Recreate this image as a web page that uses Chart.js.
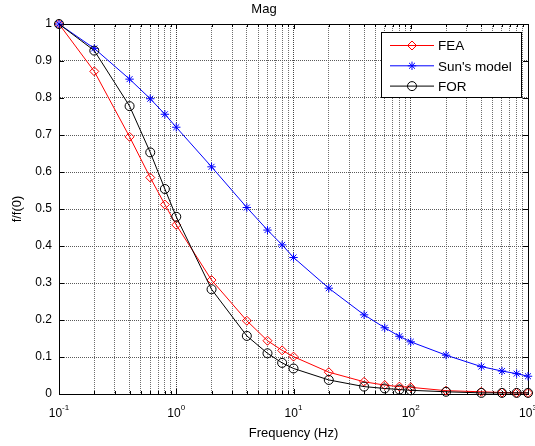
<!DOCTYPE html>
<html>
<head>
<meta charset="utf-8">
<script src="https://cdn.jsdelivr.net/npm/chart.js@4.4.0/dist/chart.umd.min.js"></script>
<style>
  html, body { margin: 0; padding: 0; background: #fff; }
  canvas { display: block; }
</style>
</head>
<body>
<canvas id="magChart" width="535" height="446"></canvas>
<script>
// frequencies (Hz) shared by all curves
const freqs   = [0.1, 0.2, 0.4, 0.6, 0.8, 1, 2, 4, 6, 8, 10, 20, 40, 60, 80, 100, 200, 400, 600, 800, 1000];
const feaVals = [1, 0.872, 0.695, 0.585, 0.512, 0.457, 0.308, 0.198, 0.144, 0.118, 0.101, 0.059, 0.033, 0.024, 0.02, 0.018, 0.009, 0.006, 0.004, 0.003, 0.003];
const sunVals = [1, 0.934, 0.851, 0.798, 0.756, 0.721, 0.614, 0.504, 0.443, 0.403, 0.369, 0.286, 0.214, 0.179, 0.156, 0.141, 0.105, 0.074, 0.062, 0.055, 0.048];
const forVals = [1, 0.928, 0.778, 0.653, 0.554, 0.479, 0.283, 0.157, 0.11, 0.084, 0.069, 0.038, 0.02, 0.015, 0.012, 0.01, 0.006, 0.003, 0.003, 0.003, 0.003];

// axis ticks
const yTickVals   = [0, 0.1, 0.2, 0.3, 0.4, 0.5, 0.6, 0.7, 0.8, 0.9, 1];
const yTickLabels = ['0', '0.1', '0.2', '0.3', '0.4', '0.5', '0.6', '0.7', '0.8', '0.9', '1'];
const xDecades    = [0.1, 1, 10, 100, 1000];
const xExponents  = ['-1', '0', '1', '2', '3'];

const FONT = '"Liberation Sans", Arial, Helvetica, sans-serif';
Chart.defaults.font.family = FONT;
Chart.defaults.color = '#000';

// every 1..9 x 10^n position gets a grid line (matlab minor grid)
const xGridVals = [];
xDecades.forEach(function (d, i) {
  if (i === xDecades.length - 1) { xGridVals.push(d); return; }
  for (let m = 1; m <= 9; m++) xGridVals.push(+(m * d).toPrecision(3));
});

function isDecade(v) {
  const l = Math.log10(v);
  return Math.abs(l - Math.round(l)) < 1e-9;
}

function series(label, vals, color, style, radius, order) {
  return {
    label: label,
    data: freqs.map(function (f, i) { return { x: f, y: vals[i] }; }),
    borderColor: color,
    backgroundColor: color,
    borderWidth: 1,
    pointStyle: style,
    pointRadius: radius,
    pointBorderColor: color,
    pointBackgroundColor: 'rgba(0,0,0,0)',
    pointBorderWidth: 1,
    tension: 0,
    clip: false,
    order: order
  };
}

//Draws the box, inner ticks, 10^n labels and the legend
const matlabFrame = {
  id: 'matlabFrame',
  beforeDatasetsDraw(chart) {
    const ctx = chart.ctx, a = chart.chartArea;
    const x = chart.scales.x, y = chart.scales.y;
    ctx.save();
    ctx.strokeStyle = '#000';
    ctx.lineWidth = 1;
    ctx.beginPath();
    x.ticks.forEach(function (t) {
      const px = Math.round(x.getPixelForValue(t.value)) + 0.5;
      const len = isDecade(t.value) ? 5 : 3;
      ctx.moveTo(px, a.bottom); ctx.lineTo(px, a.bottom - len);
      ctx.moveTo(px, a.top); ctx.lineTo(px, a.top + len);
    });
    y.ticks.forEach(function (t) {
      const py = Math.round(y.getPixelForValue(t.value)) + 0.5;
      ctx.moveTo(a.left, py); ctx.lineTo(a.left + 5, py);
      ctx.moveTo(a.right, py); ctx.lineTo(a.right - 5, py);
    });
    ctx.stroke();
    ctx.strokeRect(Math.round(a.left) + 0.5, Math.round(a.top) + 0.5,
      Math.round(a.right - a.left), Math.round(a.bottom - a.top));

    // 10^n tick labels
    ctx.fillStyle = '#000';
    ctx.textBaseline = 'alphabetic';
    ctx.textAlign = 'left';
    xDecades.forEach(function (d, i) {
      const px = x.getPixelForValue(d);
      ctx.font = '12px ' + FONT;
      const w1 = ctx.measureText('10').width;
      ctx.font = '8px ' + FONT;
      const w2 = ctx.measureText(xExponents[i]).width;
      const left = px - (w1 + w2) / 2;
      ctx.font = '12px ' + FONT;
      ctx.fillText('10', left, 417);
      ctx.font = '8px ' + FONT;
      ctx.fillText(xExponents[i], left + w1, 410);
    });
    ctx.restore();
  },
  afterDraw(chart) {
    const ctx = chart.ctx;
    const box = { x: 381.5, y: 32.5, w: 140, h: 65 };
    ctx.save();
    ctx.fillStyle = '#fff';
    ctx.fillRect(box.x, box.y, box.w, box.h);
    ctx.strokeStyle = '#000';
    ctx.lineWidth = 1;
    ctx.strokeRect(box.x, box.y, box.w, box.h);
    chart.data.datasets.forEach(function (ds, i) {
      const yy = 45.5 + i * 20.3;
      ctx.strokeStyle = ds.borderColor;
      ctx.beginPath();
      ctx.moveTo(390, yy); ctx.lineTo(434, yy);
      ctx.stroke();
      ctx.fillStyle = 'rgba(0,0,0,0)';
      Chart.helpers.drawPoint(ctx, {
        pointStyle: ds.pointStyle, radius: ds.pointRadius, rotation: 0, borderWidth: 1
      }, 412, yy);
      ctx.fillStyle = '#000';
      ctx.font = '13.5px ' + FONT;
      ctx.textBaseline = 'middle';
      ctx.textAlign = 'left';
      ctx.fillText(ds.label, 438, yy + 1);
    });
    ctx.restore();
  }
};

let magChart = new Chart(document.getElementById('magChart').getContext('2d'), {
  type: 'line',
  data: {
    datasets: [
      series('FEA', feaVals, '#ff0000', 'rectRot', 4.5, 3),
      series("Sun's model", sunVals, '#0000ff', 'star', 4.2, 2),
      series('FOR', forVals, '#000000', 'circle', 4.5, 1)
    ]
  },
  options: {
    responsive: false,
    animation: false,
    events: [],
    layout: { padding: { left: 0, right: 7, top: 0, bottom: 0 } },
    plugins: {
      legend: { display: false },
      tooltip: { enabled: false },
      title: {
        display: true,
        text: 'Mag',
        color: '#000',
        font: { size: 13, weight: 'normal' },
        padding: { top: 2, bottom: 6.4 }
      }
    },
    scales: {
      x: {
        type: 'logarithmic',
        min: 0.1,
        max: 1000,
        afterFit: function (s) { s.height = 52; },
        afterBuildTicks: function (s) {
          s.ticks = xGridVals.map(function (v) { return { value: v }; });
        },
        ticks: { display: false },
        grid: {
          drawTicks: false,
          lineWidth: 1,
          color: function (c) { return c.tick && isDecade(c.tick.value) ? '#444' : '#6e6e6e'; }
        },
        border: { display: true, color: '#000', dash: [1, 1] },
        title: {
          display: true,
          text: 'Frequency (Hz)',
          color: '#000',
          font: { size: 13 },
          padding: { top: 0, bottom: 5 }
        }
      },
      y: {
        min: 0,
        max: 1,
        afterFit: function (s) { s.width = 59; },
        afterBuildTicks: function (s) {
          s.ticks = yTickVals.map(function (v) { return { value: v }; });
        },
        ticks: {
          padding: 7,
          font: { size: 12 },
          color: '#000',
          callback: function (v, i) { return yTickLabels[i]; }
        },
        grid: { drawTicks: false, lineWidth: 1, color: '#5a5a5a' },
        border: { display: true, color: '#000', dash: [1, 1] },
        title: {
          display: true,
          text: 'f/f(0)',
          color: '#000',
          font: { size: 13 },
          padding: { top: 10, bottom: 0 }
        }
      }
    }
  },
  plugins: [matlabFrame]
});
</script>
</body>
</html>
